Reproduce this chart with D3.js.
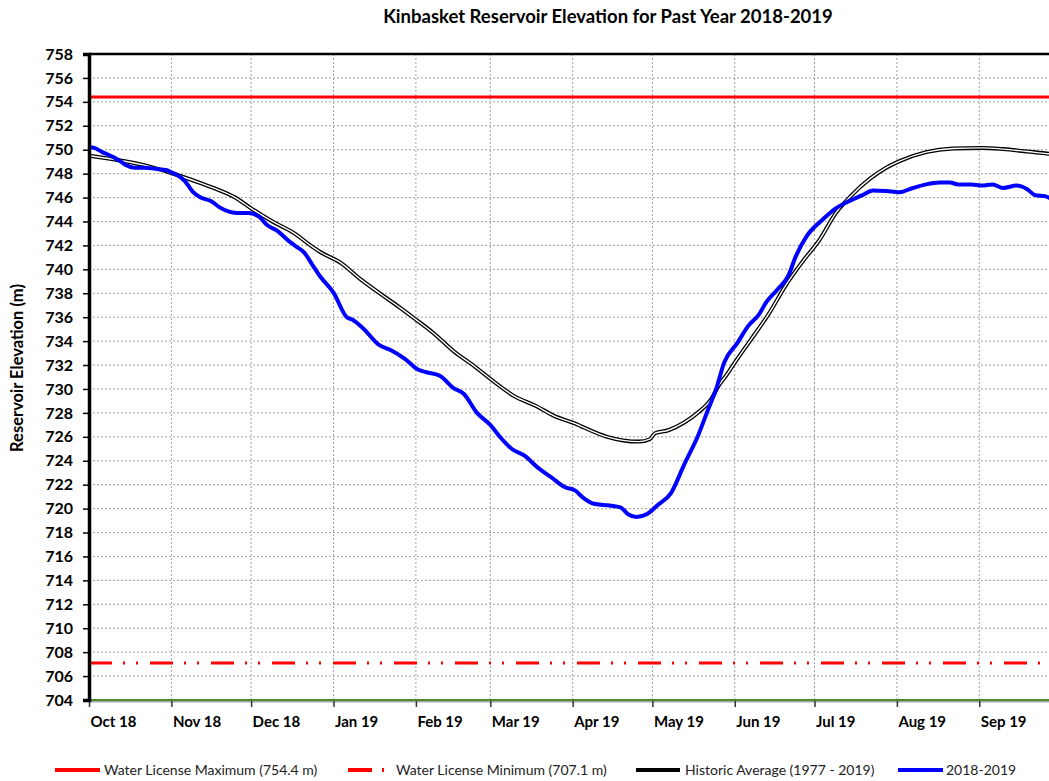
<!DOCTYPE html>
<html>
<head>
	<meta charset='utf-8'>
	<title>Kinbasket Reservoir Elevation</title>
	<style>
		body {margin: 0; background: #fff;}
		svg {font-family: Lato, "Open Sans", sans-serif; display: block;}
		.grid line {stroke: #a0a0a0; stroke-width: 1px; stroke-dasharray: 2,2;}
		.tick-label {font-weight: bold; font-size: 15px; fill: #000;}
		.legend text {font-size: 14px; fill: #222;}
	</style>
</head>
<body>
	<script src='https://d3js.org/d3.v7.min.js'></script>
	<script>

		var svg_w = 1049, svg_h = 781;
		var left = 89, top_y = 54, bottom_y = 700, right = 1059;

		var licenseMax = 754.4;
		var licenseMin = 707.1;

		var yTicks = d3.range(704, 759, 2);
		var monthLabels = ["Oct 18", "Nov 18", "Dec 18", "Jan 19", "Feb 19", "Mar 19", "Apr 19", "May 19", "Jun 19", "Jul 19", "Aug 19", "Sep 19"];

		var obsDates = ["2018-10-01", "2018-10-03", "2018-10-06", "2018-10-08", "2018-10-10", "2018-10-13", "2018-10-15", "2018-10-18", "2018-10-22", "2018-10-26", "2018-10-30",
			"2018-11-01", "2018-11-03", "2018-11-06", "2018-11-09", "2018-11-12", "2018-11-16", "2018-11-19", "2018-11-23", "2018-11-26", "2018-11-30",
			"2018-12-04", "2018-12-07", "2018-12-11", "2018-12-15", "2018-12-18", "2018-12-21", "2018-12-24", "2018-12-27",
			"2019-01-01", "2019-01-06", "2019-01-08", "2019-01-12", "2019-01-18", "2019-01-23", "2019-01-28",
			"2019-02-02", "2019-02-05", "2019-02-10", "2019-02-15", "2019-02-19", "2019-02-24",
			"2019-03-01", "2019-03-05", "2019-03-09", "2019-03-14", "2019-03-19", "2019-03-24", "2019-03-29",
			"2019-04-02", "2019-04-05", "2019-04-09", "2019-04-15", "2019-04-19", "2019-04-22", "2019-04-25", "2019-04-29",
			"2019-05-03", "2019-05-08", "2019-05-13", "2019-05-18", "2019-05-22", "2019-05-25", "2019-05-28",
			"2019-06-02", "2019-06-06", "2019-06-10", "2019-06-13", "2019-06-17", "2019-06-21", "2019-06-24", "2019-06-28",
			"2019-07-04", "2019-07-09", "2019-07-14", "2019-07-19", "2019-07-23", "2019-07-28",
			"2019-08-02", "2019-08-07", "2019-08-12", "2019-08-17", "2019-08-21", "2019-08-24", "2019-08-29",
			"2019-09-02", "2019-09-06", "2019-09-10", "2019-09-15", "2019-09-19", "2019-09-22", "2019-09-26", "2019-09-28"];
		var obsLevels = [750.2, 750.15, 749.8, 749.6, 749.4, 749.0, 748.7, 748.5, 748.5, 748.4, 748.3,
			748.1, 747.9, 747.4, 746.5, 746.0, 745.7, 745.2, 744.8, 744.7, 744.7,
			744.4, 743.7, 743.2, 742.4, 741.9, 741.4, 740.4, 739.4,
			738.05, 736.0, 735.8, 735.1, 733.7, 733.2, 732.5,
			731.6, 731.4, 731.1, 730.1, 729.6, 728.0,
			727.0, 725.9, 725.0, 724.4, 723.4, 722.6, 721.8,
			721.5, 720.9, 720.4, 720.25, 720.1, 719.5, 719.3, 719.55,
			720.3, 721.3, 723.7, 726.0, 728.3, 730.0, 732.2,
			733.85, 735.25, 736.2, 737.3, 738.3, 739.4, 741.1, 742.75,
			744.15, 745.1, 745.7, 746.2, 746.6, 746.55,
			746.45, 746.8, 747.1, 747.25, 747.25, 747.1, 747.1,
			747.0, 747.1, 746.8, 747.0, 746.7, 746.2, 746.1, 745.9];

		// historic average 1977 - 2019
		var histDates = ["2018-10-01", "2018-10-10", "2018-10-21", "2018-11-01", "2018-11-12", "2018-11-18", "2018-11-25",
			"2018-12-01", "2018-12-09", "2018-12-17", "2018-12-24", "2018-12-27",
			"2019-01-04", "2019-01-11", "2019-01-19", "2019-01-26", "2019-02-01", "2019-02-08", "2019-02-15", "2019-02-23",
			"2019-03-03", "2019-03-10", "2019-03-18", "2019-03-25", "2019-04-02", "2019-04-04", "2019-04-14", "2019-04-20", "2019-04-26", "2019-04-30",
			"2019-05-02", "2019-05-07", "2019-05-13", "2019-05-18", "2019-05-23", "2019-05-26", "2019-05-29",
			"2019-06-01", "2019-06-07", "2019-06-14", "2019-06-20", "2019-06-26",
			"2019-07-03", "2019-07-09", "2019-07-15", "2019-07-22", "2019-07-28",
			"2019-08-02", "2019-08-12", "2019-08-22", "2019-09-02", "2019-09-10", "2019-09-19", "2019-09-28", "2019-10-01"];
		var histLevels = [749.5, 749.2, 748.75, 748.05, 747.2, 746.7, 746.0,
			745.1, 744.0, 743.05, 741.9, 741.45,
			740.5, 739.2, 737.9, 736.8, 735.8, 734.6, 733.2, 731.9,
			730.5, 729.4, 728.6, 727.75, 727.1, 726.9, 726.0, 725.7, 725.6, 725.8,
			726.3, 726.55, 727.2, 728.0, 729.1, 730.3, 731.2,
			732.2, 734.1, 736.35, 738.6, 740.5,
			742.5, 744.7, 746.2, 747.6, 748.5,
			749.05, 749.8, 750.1, 750.15, 750.05, 749.85, 749.65, 749.6];

		var parse = d3.timeParse("%Y-%m-%d");
		var obs = obsDates.map(function (d, i) { return {date: parse(d), v: obsLevels[i]}; });
		var hist = histDates.map(function (d, i) { return {date: parse(d), v: histLevels[i]}; });

		var x = d3.scaleTime().domain([parse("2018-10-01"), parse("2019-10-01")]).range([left, right]);
		var y = d3.scaleLinear().domain([704, 758]).range([bottom_y, top_y]);
		var months = d3.timeMonth.range(parse("2018-10-01"), parse("2019-10-01"));

		var svg = d3.select('body').append('svg').attr('width', svg_w).attr('height', svg_h);

		svg.append("defs").append("clipPath").attr("id", "plot")
			.append("rect").attr("x", left).attr("y", top_y).attr("width", right - left).attr("height", bottom_y - top_y);

		// gridlines
		var grid = svg.append("g").attr("class", "grid");
		grid.selectAll("line.h").data(yTicks.filter(function (v) { return v > 704 && v < 758; }))
			.enter().append("line")
			.attr("x1", left).attr("x2", right)
			.attr("y1", function (d) { return y(d); }).attr("y2", function (d) { return y(d); });
		grid.selectAll("line.v").data(months.slice(1))
			.enter().append("line").attr("class", "v")
			.attr("y1", top_y).attr("y2", bottom_y)
			.attr("x1", function (d) { return x(d); }).attr("x2", function (d) { return x(d); });

		var plot = svg.append("g").attr("clip-path", "url(#plot)");

		// license limits
		plot.append("line")
			.attr("x1", left).attr("x2", right)
			.attr("y1", y(licenseMax)).attr("y2", y(licenseMax))
			.attr("stroke", "#ff0000").attr("stroke-width", 3);
		plot.append("line")
			.attr("x1", left).attr("x2", right)
			.attr("y1", y(licenseMin)).attr("y2", y(licenseMin))
			.attr("stroke", "#ff0000").attr("stroke-width", 3)
			.attr("stroke-dasharray", "23,11,2,11,2,12");

		var line = d3.line()
			.x(function (d) { return x(d.date); })
			.y(function (d) { return y(d.v); })
			.curve(d3.curveMonotoneX);

		// historic average: black outline with white core
		plot.append("path").datum(hist).attr("d", line)
			.attr("fill", "none").attr("stroke", "#000").attr("stroke-width", 4);
		plot.append("path").datum(hist).attr("d", line)
			.attr("fill", "none").attr("stroke", "#fff").attr("stroke-width", 1.4);

		plot.append("path").datum(obs).attr("d", line)
			.attr("fill", "none").attr("stroke", "#0000ff").attr("stroke-width", 4)
			.attr("stroke-linejoin", "round");

		// bottom axis (green baseline)
		svg.append("line").attr("x1", left).attr("x2", right).attr("y1", bottom_y + 1.5).attr("y2", bottom_y + 1.5)
			.attr("stroke", "#a8a8a8").attr("stroke-width", 2);
		svg.append("line").attr("x1", left).attr("x2", right).attr("y1", bottom_y).attr("y2", bottom_y)
			.attr("stroke", "#4f8a2a").attr("stroke-width", 2);

		var xAxis = d3.axisBottom(x).tickValues(months).tickSize(6).tickFormat(function (d, i) { return monthLabels[i]; });
		var gx = svg.append("g").attr("transform", "translate(0," + (bottom_y + 1) + ")").call(xAxis);
		gx.select(".domain").remove();
		gx.selectAll(".tick line").attr("stroke", "#333").attr("stroke-width", 1.5);
		gx.selectAll(".tick text").attr("class", "tick-label").attr("text-anchor", "start")
			.attr("x", 1).attr("y", 15).attr("dy", "0.71em").style("font-size", "15px").style("font-family", "Lato");

		// top border
		svg.append("line").attr("x1", left).attr("x2", right).attr("y1", top_y).attr("y2", top_y)
			.attr("stroke", "#000").attr("stroke-width", 2.5);

		var yAxis = d3.axisLeft(y).tickValues(yTicks).tickSize(6).tickPadding(10);
		var gy = svg.append("g").attr("transform", "translate(" + left + ",0)").call(yAxis);
		gy.select(".domain").attr("stroke", "#000").attr("stroke-width", 3.5);
		gy.selectAll(".tick line").attr("stroke", "#000").attr("stroke-width", 1.5);
		gy.selectAll(".tick text").attr("class", "tick-label").style("font-size", "16px").style("font-family", "Lato");

		// titles
		svg.append("text").attr("x", 608).attr("y", 23).attr("text-anchor", "middle")
			.style("font-weight", "bold").style("font-size", "18.5px").text("Kinbasket Reservoir Elevation for Past Year 2018-2019");
		svg.append("text").attr("transform", "translate(23," + 368 + ") rotate(-90)").attr("text-anchor", "middle")
			.style("font-weight", "bold").style("font-size", "16.5px").text("Reservoir Elevation (m)");

		// legend
		var legendItems = [
			{label: "Water License Maximum (754.4 m)", x1: 55, x2: 100, tx: 104, color: "#ff0000", dash: null},
			{label: "Water License Minimum (707.1 m)", x1: 348, x2: 386, tx: 396, color: "#ff0000", dash: "24,10,2,10"},
			{label: "Historic Average (1977 - 2019)", x1: 636, x2: 680, tx: 685, color: "#000", dash: null},
			{label: "2018-2019", x1: 898, x2: 943, tx: 946, color: "#0000ff", dash: null}
		];
		var legend = svg.append("g").attr("class", "legend");
		var li = legend.selectAll("g").data(legendItems).enter().append("g");
		li.append("line")
			.attr("x1", function (d) { return d.x1; }).attr("x2", function (d) { return d.x2; })
			.attr("y1", 770).attr("y2", 770)
			.attr("stroke", function (d) { return d.color; }).attr("stroke-width", 4)
			.attr("stroke-dasharray", function (d) { return d.dash; });
		li.append("text").attr("x", function (d) { return d.tx; }).attr("y", 775)
			.text(function (d) { return d.label; });

	</script>
</body>
</html>
